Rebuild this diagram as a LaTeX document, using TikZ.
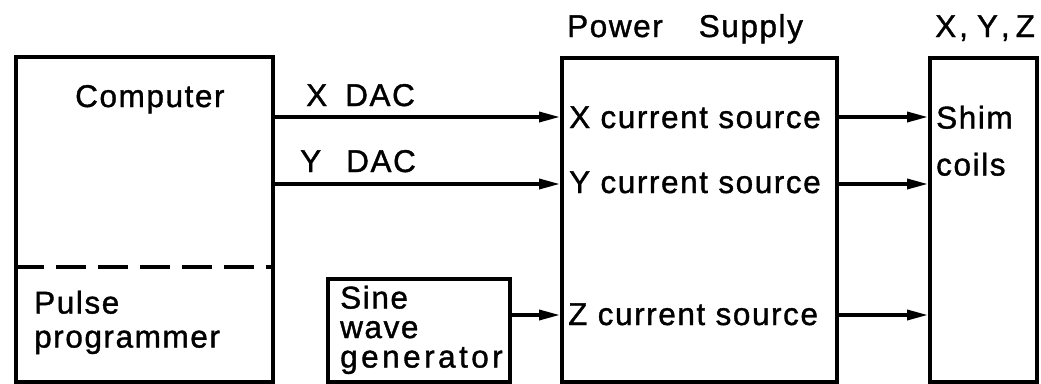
\documentclass[tikz,border=0pt]{standalone}
\usepackage{fontspec}
\setmainfont{Liberation Sans}[LetterSpace=5,FakeBold=1.2]
\usetikzlibrary{arrows.meta}
\begin{document}
\begin{tikzpicture}[x=1pt,y=-1pt,
  box/.style={draw, line width=4.2pt, inner sep=0pt, anchor=north west},
  lbl/.style={anchor=base west, inner sep=0pt, font=\fontsize{31.5}{34}\selectfont},
  mlbl/.style={anchor=north west, inner sep=0pt, align=left},
  arr/.style={line width=3.5pt, -{Triangle[length=21pt,width=10pt]}},
  sep/.style={line width=3.5pt, dash pattern=on 30pt off 12pt}]
\useasboundingbox (0,0) rectangle (1041,383);
% boxes
\node[box, minimum width=257pt, minimum height=325pt] (comp) at (14,55) {};
\node[box, minimum width=182pt, minimum height=103pt] (sine) at (326,277) {};
\node[box, minimum width=275pt, minimum height=324pt] (ps) at (560,56) {};
\node[box, minimum width=107pt, minimum height=324pt] (shim) at (928,56) {};
% dashed separator
\coordinate (dl) at (14,267);
\draw[sep] (dl) -- (dl -| comp.east);
% labels
\node[lbl] (tcomp) at (75,107) {Computer};
\node[mlbl, font=\fontsize{31.5}{34}\selectfont] (tpulse) at (34,290.5) {Pulse\\programmer};
\node[lbl] (txdac) at (306,106) {X\hspace{18pt}DAC};
\node[lbl] (tydac) at (300,172) {Y\hspace{25pt}DAC};
\node[mlbl, font=\fontsize{31.5}{29.5}\selectfont] (tsine) at (340,285.5)
  {Sine\\wave\\{\addfontfeature{LetterSpace=11}generator}};
\node[lbl] (tps) at (567,37) {Power\hspace{36pt}Supply};
\node[lbl] (txyz) at (935,37) {X\hspace{3pt},\hspace{9pt}Y\hspace{3pt},\hspace{6pt}Z};
\node[lbl] (txcs) at (569,128) {X current source};
\node[lbl] (tycs) at (569,193) {Y current source};
\node[lbl] (tzcs) at (568,325) {Z current source};
\node[mlbl, font=\fontsize{31.5}{47}\selectfont] (tshim) at (936,105.5) {Shim\\coils};
% connectors
\coordinate (rx) at (0,117);
\coordinate (ry) at (0,184);
\coordinate (rz) at (0,315);
\draw[arr] (rx -| comp.east) -- (rx -| ps.west);
\draw[arr] (ry -| comp.east) -- (ry -| ps.west);
\draw[arr] (rz -| sine.east) -- (rz -| ps.west);
\draw[arr] (rx -| ps.east) -- (rx -| shim.west);
\draw[arr] (ry -| ps.east) -- (ry -| shim.west);
\draw[arr] (rz -| ps.east) -- (rz -| shim.west);
\end{tikzpicture}
\end{document}
